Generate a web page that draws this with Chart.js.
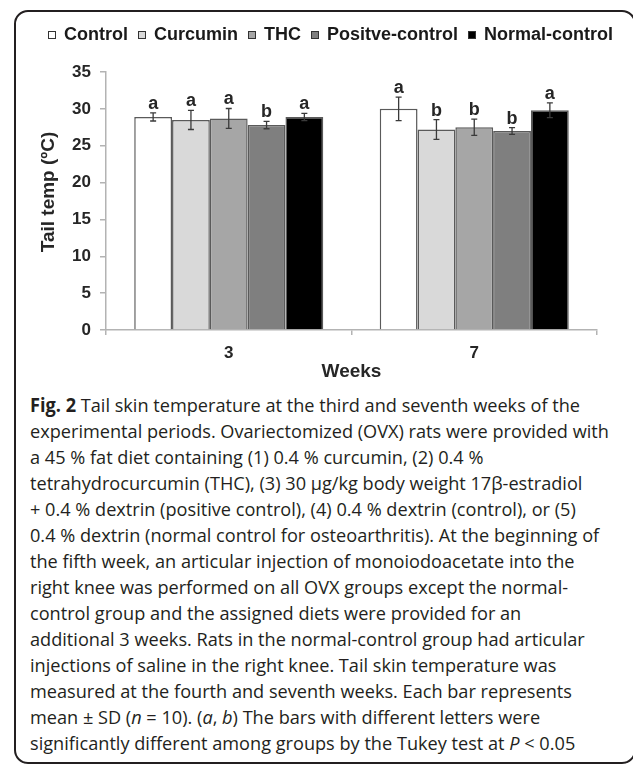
<!DOCTYPE html>
<html>
<head>
<meta charset="utf-8">
<script src="https://cdn.jsdelivr.net/npm/chart.js@4.4.1/dist/chart.umd.min.js"></script>
<style>
  html, body { margin: 0; padding: 0; background: #fff; }
  body { width: 633px; height: 768px; position: relative; overflow: hidden; }
  #frame { position: absolute; left: 14px; top: 10px; width: 622px; height: 754px;
           border: 2px solid #231f20; border-radius: 14px; box-sizing: border-box; }
  #chartBox { position: absolute; left: 0; top: 0; width: 633px; height: 392px; }
  #legend { position: absolute; left: 48px; top: 24px; display: flex; align-items: center;
            white-space: nowrap; font: bold 18px "Liberation Sans", Arial, sans-serif; color: #1a1a1a; line-height: 21px; }
  #legend .item { display: flex; align-items: center; margin-right: 10px; }
  #legend .sw { width: 6px; height: 6px; border: 1px solid #333; margin-right: 8px; }
  #caption { position: absolute; left: 30px; top: 392px; font: 19px/26px "Open Sans", sans-serif;
             color: #231f20; white-space: nowrap; transform-origin: 0 0; transform: scaleX(0.955); }
  #caption b { font-weight: bold; }
</style>
</head>
<body>
<div id="frame"></div>
<div id="chartBox"><canvas id="chart" width="633" height="392"></canvas></div>
<div id="legend"></div>
<div id="caption">
  <div><b>Fig. 2</b> Tail skin temperature at the third and seventh weeks of the</div>
  <div>experimental periods. Ovariectomized (OVX) rats were provided with</div>
  <div>a 45 % fat diet containing (1) 0.4 % curcumin, (2) 0.4 %</div>
  <div>tetrahydrocurcumin (THC), (3) 30 μg/kg body weight 17β-estradiol</div>
  <div>+ 0.4 % dextrin (positive control), (4) 0.4 % dextrin (control), or (5)</div>
  <div>0.4 % dextrin (normal control for osteoarthritis). At the beginning of</div>
  <div>the fifth week, an articular injection of monoiodoacetate into the</div>
  <div>right knee was performed on all OVX groups except the normal-</div>
  <div>control group and the assigned diets were provided for an</div>
  <div>additional 3 weeks. Rats in the normal-control group had articular</div>
  <div>injections of saline in the right knee. Tail skin temperature was</div>
  <div>measured at the fourth and seventh weeks. Each bar represents</div>
  <div>mean ± SD (<i>n</i> = 10). (<i>a</i>, <i>b</i>) The bars with different letters were</div>
  <div>significantly different among groups by the Tukey test at <i>P</i> &lt; 0.05</div>
</div>
<script>
// Weeks on the x axis
const weeks = ['3', '7'];

// Group names and bar fills
const groupNames = ['Control', 'Curcumin', 'THC', 'Positve-control', 'Normal-control'];
const groupFills = ['#ffffff', '#d9d9d9', '#a6a6a6', '#7f7f7f', '#000000'];

// Mean tail temperature (°C) per group, week 3 and week 7
const controlMean  = [28.9, 30.0];
const curcuminMean = [28.5, 27.2];
const thcMean      = [28.7, 27.5];
const positiveMean = [27.8, 27.0];
const normalMean   = [28.9, 29.8];

// Standard deviations
const controlSD  = [0.55, 1.6];
const curcuminSD = [1.3, 1.35];
const thcSD      = [1.35, 1.1];
const positiveSD = [0.5, 0.45];
const normalSD   = [0.5, 1.0];

// Tukey letters
const controlLetters  = ['a', 'a'];
const curcuminLetters = ['a', 'b'];
const thcLetters      = ['a', 'b'];
const positiveLetters = ['b', 'b'];
const normalLetters   = ['a', 'a'];

// Y axis ticks
const yTicks = [0, 5, 10, 15, 20, 25, 30, 35];

const means   = [controlMean, curcuminMean, thcMean, positiveMean, normalMean];
const sds     = [controlSD, curcuminSD, thcSD, positiveSD, normalSD];
const letters = [controlLetters, curcuminLetters, thcLetters, positiveLetters, normalLetters];

const FONT = '"Liberation Sans", Arial, sans-serif';
const AXIS_GREY = '#b3b3b3';
const TEXT_DARK = '#262626';

const datasets = groupNames.map((name, i) => ({
  label: name,
  data: means[i],
  sd: sds[i],
  letters: letters[i],
  backgroundColor: groupFills[i],
  borderColor: '#5a5a5a',
  borderWidth: 1.5,
  barPercentage: 1.0,
  categoryPercentage: 0.77
}));

// Error bars with caps and significance letters above them
const errorBarPlugin = {
  id: 'errorBars',
  afterDatasetsDraw(chart) {
    const ctx = chart.ctx;
    const yScale = chart.scales.y;
    ctx.save();
    chart.data.datasets.forEach((ds, di) => {
      const meta = chart.getDatasetMeta(di);
      meta.data.forEach((bar, j) => {
        const m = ds.data[j], s = ds.sd[j];
        const x = bar.x;
        const yTop = yScale.getPixelForValue(m + s);
        const yBot = yScale.getPixelForValue(m - s);
        ctx.strokeStyle = '#3a3a3a';
        ctx.lineWidth = 1.3;
        ctx.beginPath();
        ctx.moveTo(x, yTop); ctx.lineTo(x, yBot);
        ctx.moveTo(x - 3, yTop); ctx.lineTo(x + 3, yTop);
        ctx.moveTo(x - 3, yBot); ctx.lineTo(x + 3, yBot);
        ctx.stroke();
        ctx.fillStyle = TEXT_DARK;
        ctx.font = 'bold 18px ' + FONT;
        ctx.textAlign = 'center';
        ctx.textBaseline = 'alphabetic';
        ctx.fillText(ds.letters[j], x, yTop - 4);
      });
    });
    ctx.restore();
  }
};

// Nudge the y-axis title slightly above the axis midpoint
const yTitleShift = {
  id: 'yTitleShift',
  afterLayout(chart) {
    const s = chart.scales.y;
    if (s && !s._shifted) {
      const draw = s.drawTitle.bind(s);
      s.drawTitle = function () {
        chart.ctx.save();
        chart.ctx.translate(0, -9);
        draw();
        chart.ctx.restore();
      };
      s._shifted = true;
    }
  }
};

const chart = new Chart(document.getElementById('chart'), {
  type: 'bar',
  data: { labels: weeks, datasets },
  options: {
    responsive: false,
    animation: false,
    layout: { padding: { left: 37, right: 36, top: 72, bottom: 9 } },
    plugins: { legend: { display: false }, tooltip: { enabled: false } },
    scales: {
      x: {
        grid: { drawOnChartArea: false, drawTicks: true, tickLength: 5, color: AXIS_GREY, lineWidth: 1.5, offset: true },
        border: { display: true, color: AXIS_GREY, width: 1.5 },
        ticks: { color: TEXT_DARK, padding: 8, font: { family: FONT, size: 17, weight: 'bold' } },
        title: { display: true, text: 'Weeks', color: TEXT_DARK, padding: { top: 0, bottom: 0 },
                 font: { family: FONT, size: 19, weight: 'bold' } },
        afterFit(scale) { scale.height = 53; }
      },
      y: {
        min: 0, max: 35,
        afterBuildTicks(scale) { scale.ticks = yTicks.map(v => ({ value: v })); },
        grid: { drawOnChartArea: false, drawTicks: true, tickLength: 6, color: AXIS_GREY, lineWidth: 1.5 },
        border: { display: true, color: AXIS_GREY, width: 1.5 },
        ticks: { color: TEXT_DARK, padding: 9, font: { family: FONT, size: 17, weight: 'bold' } },
        title: { display: true, text: 'Tail temp (ºC)', color: TEXT_DARK, padding: { top: 0, bottom: 0 },
                 font: { family: FONT, size: 19, weight: 'bold' } },
        afterFit(scale) { scale.width = 69; }
      }
    }
  },
  plugins: [errorBarPlugin, yTitleShift]
});

// Legend row built from the chart's datasets
const legendEl = document.getElementById('legend');
chart.data.datasets.forEach(ds => {
  const item = document.createElement('div');
  item.className = 'item';
  const sw = document.createElement('span');
  sw.className = 'sw';
  sw.style.background = ds.backgroundColor;
  const tx = document.createElement('span');
  tx.textContent = ds.label;
  item.appendChild(sw); item.appendChild(tx);
  legendEl.appendChild(item);
});
</script>
</body>
</html>
